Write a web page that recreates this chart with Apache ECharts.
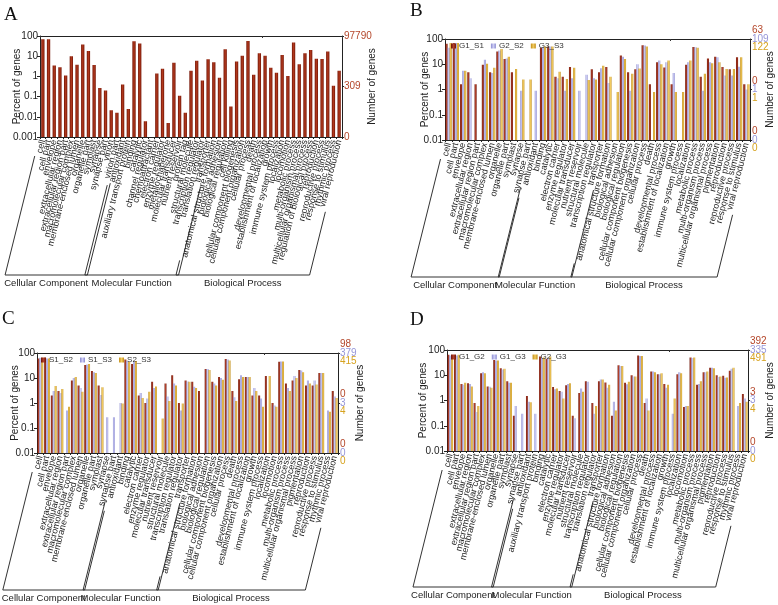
<!DOCTYPE html>
<html>
<head>
<meta charset="utf-8">
<script src="https://cdn.jsdelivr.net/npm/echarts@6/dist/echarts.min.js"></script>
<style>
  html, body { margin: 0; padding: 0; background: #fff; }
  #main { width: 778px; height: 605px; }
</style>
</head>
<body>
<div id="main"></div>
<script>
// ---- data (percent of genes) ----
var groupNames = ['Cellular Component', 'Molecular Function', 'Biological Process'];

var ccTerms = ['cell', 'cell part', 'envelope', 'extracellular region', 'extracellular region part',
  'macromolecular complex', 'membrane-enclosed lumen', 'organelle', 'organelle part', 'symplast',
  'synapse', 'synapse part'];
var bpTerms = ['anatomical structure formation', 'biological adhesion', 'biological regulation',
  'cellular component biogenesis', 'cellular component organization', 'cellular process', 'death',
  'developmental process', 'establishment of localization', 'growth', 'immune system process',
  'localization', 'locomotion', 'metabolic process', 'multi-organism process',
  'multicellular organismal process', 'pigmentation', 'reproduction', 'reproductive process',
  'response to stimulus', 'rhythmic process', 'viral reproduction'];

// panel A
var catsA = ccTerms.concat(['virion', 'virion part',
  'antioxidant', 'auxiliary transport protein', 'binding', 'catalytic', 'channel regulator',
  'chemoattractant', 'electron carrier', 'enzyme regulator', 'metallochaperone',
  'molecular transducer', 'nutrient reservoir', 'protein tag', 'structural molecule',
  'transcription regulator', 'translation regulator', 'transporter',
  'anatomical structure formation', 'biological adhesion', 'biological regulation', 'cell killing',
  'cellular component biogenesis', 'cellular component organization', 'cellular process', 'death',
  'developmental process', 'establishment of localization', 'growth', 'immune system process',
  'localization', 'locomotion', 'metabolic process', 'multi-organism process',
  'multicellular organismal process', 'regulation of biological process', 'reproduction',
  'reproductive process', 'response to stimulus', 'rhythmic process', 'viral reproduction']);
var groupSizeA = [14, 16, 23];
var valsA = [70, 70, 3.5, 2.8, 1.1, 10, 3.8, 38, 18, 3.7, 0.27, 0.2, 0.021, 0.016,
  0.4, 0.024, 55, 43, 0.006, null, 1.4, 2.4, 0.005, 4.8, 0.11, 0.016, 1.9, 6, 0.62, 7,
  5, 0.85, 22, 0.032, 5.5, 10.5, 57, 1.2, 14, 10.5, 2.7, 1.5, 11.5, 1.05, 48, 4, 14, 20, 7.5, 7.3, 17, 0.34, 1.9];
var rightPosA = [0.001, 0.316, 100];
var rightLabA = ['0', '309', '97790'];

// panel B
var catsB = ccTerms.concat(['antioxidant', 'binding', 'catalytic', 'electron carrier', 'enzyme regulator',
  'molecular transducer', 'nutrient reservoir', 'structural molecule', 'transcription regulator', 'transporter',
  'anatomical structure formation', 'biological adhesion', 'biological regulation',
  'cellular component biogenesis', 'cellular component organization', 'cellular process', 'death',
  'developmental process', 'establishment of localization', 'growth', 'immune system process',
  'localization', 'metabolic process', 'multi-organism process', 'multicellular organismal process',
  'pigmentation', 'reproduction', 'reproductive process', 'response to stimulus', 'viral reproduction']);
var groupSizeB = [12, 10, 20];
var namesB = ['G1_S1', 'G2_S2', 'G3_S3'];
var b1 = [65, 70, 1.6, 4.8, 1.6, 9.5, 4.8, 32, 16, 4.8, null, null,
  null, 45, 50, 3.2, 3.2, 7.8, null, null, 6.3, 4.8,
  7.8, null, 22, 4.8, 6.3, 57, 1.6, 12, 7.5, 1.6, null, 9.5, 48, 3.2, 17, 20, 7.8, 6.3, 19, 1.6];
var b2 = [45, 70, 5.5, 2.8, null, 15, 4.5, 35, 17, null, 0.9, null,
  0.9, 48, 50, 2.8, 0.9, 2.8, 0.9, 3.8, 2.8, 7,
  1.8, null, 20, 0.9, 10, 55, null, 14, 12, 4.5, null, 12, 47, 0.9, 12, 19, 3.6, 3.6, 8, 1];
var b3 = [70, 70, 5.5, null, null, 10.5, 7.2, 40, 20, 6.5, 2.5, 2.5,
  null, 50, 50, 5, 2.6, 7.2, null, 2.4, 2.5, 8.8,
  3.2, 0.8, 16, 4.2, 6.8, 50, 0.8, 10, 14, 0.8, 0.8, 14, 45, 4.2, 11, 12, 6.5, 6.5, 19, 1.6];
var rightPosB = [0.01, 1, 100];
var rightLabB = [['0', '0', '0'], ['0', '1', '1'], ['63', '109', '122']];

// panel C
var catsC = ccTerms.concat(['antioxidant', 'binding', 'catalytic', 'electron carrier', 'enzyme regulator',
  'molecular transducer', 'nutrient reservoir', 'structural molecule', 'transcription regulator',
  'translation regulator', 'transporter']).concat(bpTerms);
var groupSizeC = [12, 11, 22];
var namesC = ['S1_S2', 'S1_S3', 'S2_S3'];
var c1 = [60, 65, 2, 3, null, 8, 5, 33, 19, 5, null, null,
  null, 55, 36, 2, 1, 7, null, 6, 13, 1, 8,
  7, 3, 23, 7, 11, 58, 3, 9, 11, 2, 2, 12, 1, 45, 6, 8, 21, 5, 5, 16, null, 3];
var c2 = [65, 60, 3, 2.5, 0.5, 10, 4, 35, 17, 2.1, 0.27, 0.27,
  1.0, 48, 45, 2.5, 1.5, 4, null, 1.8, 6, 0.5, 7.2,
  4.5, null, 23, 6, 10, 55, 1.7, 13, 11, 4, 1.5, null, 0.8, 46, 4, 12, 20, 8, 8, 16, 0.5, 1.8];
var c3 = [65, 60, 4.8, 3.6, 0.7, 11, 2.8, 36, 16, 4.3, null, null,
  0.95, 45, 48, 1.6, 2.8, 4.6, 0.24, 1.2, 5, 0.95, 7,
  4, null, 21, 5, 8.5, 50, 1.2, 11, 11, 3, 0.7, 12, 0.7, 46, 3, 10, 17, 6, 5.5, 16, 0.45, 1.6];
var rightPosC = [0.01, 1, 100];
var rightLabC = [['0', '0', '0'], ['0', '3', '4'], ['98', '379', '415']];

// panel D
var catsD = ccTerms.concat(['antioxidant', 'auxiliary transport protein', 'binding', 'catalytic',
  'electron carrier', 'enzyme regulator', 'molecular transducer', 'nutrient reservoir',
  'structural molecule', 'transcription regulator', 'translation regulator', 'transporter']).concat(bpTerms);
var groupSizeD = [12, 12, 22];
var namesD = ['G1_G2', 'G1_G3', 'G2_G3'];
var d1 = [65, 55, 4.5, 4.8, 0.8, 12, 3.6, 40, 19, 5.8, 0.25, null,
  1.5, null, 55, 45, 3.4, 2.4, 4, 0.25, 2, 5.8, 0.8, 5.8,
  5.2, 0.25, 25, 5, 10, 60, 0.8, 14, 11, 4.5, null, 11, 0.55, 50, 4.2, 13, 20, 10, 9.5, 15, null, 1.8];
var d2 = [60, 60, 4.2, 4.5, 0.35, 13, 3.5, 38, 17, 5, 0.6, 0.3,
  0.9, 0.3, 48, 45, 2.8, 2.2, 4.5, 0.2, 3, 5.5, 0.3, 6.8,
  3.2, 0.9, 23, 4.4, 9, 58, 1.2, 14, 11, 3.2, 0.3, 13, 0.6, 48, 4.5, 13, 20, 8.5, 8, 18, 0.6, 1.2];
var d3 = [60, 65, 5, 3.6, 0.6, 12, 3.2, 38, 18, 5, null, null,
  0.85, null, 50, 55, 3, 1.2, 4.8, null, 2.2, null, 0.6, 6.8,
  4.2, 0.4, 23, 5.5, 9, 58, 0.4, 13, 12, 4.2, 1.2, 12, 0.6, 50, 5.8, 14, 19, 9, 8.2, 20, 0.8, 0.9];
var rightPosD = [0.01, 1, 100];
var rightLabD = [['0', '0', '0'], ['3', '3', '4'], ['392', '335', '491']];

// ---- styling ----
var FONT = '"Liberation Sans", Arial, Helvetica, sans-serif';
var labelColors = ['#b4462a', '#9696d8', '#d6a21e'];
var ROT = 76;          // rotation of the category labels
var LABEL_SIZE = 9;

function barGrad(dark, light) {
  return new echarts.graphic.LinearGradient(0, 0, 1, 0, [
    { offset: 0, color: dark }, { offset: 0.5, color: light }, { offset: 1, color: dark }
  ]);
}
var barColors = [barGrad('#6e1406', '#b3402a'), barGrad('#8b8bd0', '#cfcff5'), barGrad('#c18c12', '#f2cc62')];

// panel layout (pixels)
var panels = [
  { letter: 'A', lx: 4, ly: 6, grid: { left: 40, top: 36, width: 302, height: 101 }, min: 0.001,
    cats: catsA, groups: groupSizeA, series: [valsA], names: null,
    rightPos: rightPosA, rightLab: rightLabA, bracketY: 275, nameGapL: 18, nameGapR: 25 },
  { letter: 'B', lx: 410, ly: 2, grid: { left: 445, top: 39, width: 305, height: 101 }, min: 0.01,
    cats: catsB, groups: groupSizeB, series: [b1, b2, b3], names: namesB, legend: { left: 451, top: 42 },
    rightPos: rightPosB, rightLab: rightLabB, bracketY: 277, nameGapL: 15, nameGapR: 15 },
  { letter: 'C', lx: 2, ly: 310, grid: { left: 37, top: 353, width: 301, height: 100 }, min: 0.01,
    cats: catsC, groups: groupSizeC, series: [c1, c2, c3], names: namesC, legend: { left: 41, top: 356 },
    rightPos: rightPosC, rightLab: rightLabC, bracketY: 590, nameGapL: 17, nameGapR: 17 },
  { letter: 'D', lx: 410, ly: 311, grid: { left: 447, top: 350, width: 301, height: 101 }, min: 0.01,
    cats: catsD, groups: groupSizeD, series: [d1, d2, d3], names: namesD, legend: { left: 451, top: 353 },
    rightPos: rightPosD, rightLab: rightLabD, bracketY: 587, nameGapL: 19, nameGapR: 17 }
];

function logLabel(v) {
  var p = Math.round(Math.log(v) / Math.LN10);
  return p >= 0 ? String(Math.pow(10, p)) : Math.pow(10, p).toFixed(-p);
}

var option = {
  backgroundColor: '#ffffff',
  animation: false,
  textStyle: { fontFamily: FONT },
  grid: [], xAxis: [], yAxis: [], series: [], legend: [], graphic: []
};

panels.forEach(function (p, k) {
  option.grid.push(p.grid);
  // bottom category axis with the GO terms
  option.xAxis.push({
    type: 'category', gridIndex: k, data: p.cats,
    axisLine: { onZero: false, lineStyle: { color: '#222', width: 1 } },
    axisTick: { show: true, length: 2, lineStyle: { color: '#222' } },
    axisLabel: { interval: 0, rotate: ROT, fontSize: LABEL_SIZE, color: '#222', margin: 3, fontFamily: FONT }
  });
  // top border with small ticks
  option.xAxis.push({
    type: 'category', gridIndex: k, position: 'top', data: p.cats,
    axisLine: { onZero: false, lineStyle: { color: '#222', width: 1 } },
    axisTick: { show: true, inside: true, length: 2, lineStyle: { color: '#333' } },
    axisLabel: { show: false }
  });
  // left log axis
  option.yAxis.push({
    type: 'log', gridIndex: k, logBase: 10, min: p.min, max: 100, startValue: p.min,
    name: 'Percent of genes', nameLocation: 'middle', nameGap: p.nameGapL, nameRotate: 90,
    nameMoveOverlap: false,
    nameTextStyle: { fontSize: 10, color: '#222', fontFamily: FONT },
    axisLine: { show: true, onZero: false, lineStyle: { color: '#222' } },
    axisTick: { show: true, length: 3, lineStyle: { color: '#222' } },
    splitLine: { show: false }, minorTick: { show: false },
    axisLabel: { fontSize: 10, color: '#222', margin: 2, formatter: logLabel }
  });
  // right axis: number of genes (same log range, drawn in log10 units)
  var lo = Math.log(p.min) / Math.LN10;
  var rpos = p.rightPos.map(function (v) { return Math.log(v) / Math.LN10; });
  var rich = { a: { color: labelColors[0], fontSize: 10, lineHeight: 8.5 },
               b: { color: labelColors[1], fontSize: 10, lineHeight: 8.5 },
               c: { color: labelColors[2], fontSize: 10, lineHeight: 8.5 } };
  option.yAxis.push({
    type: 'value', gridIndex: k, position: 'right', min: lo, max: 2,
    name: 'Number of genes', nameLocation: 'middle', nameGap: p.nameGapR, nameRotate: 90,
    nameMoveOverlap: false,
    nameTextStyle: { fontSize: 10, color: '#222', fontFamily: FONT },
    axisLine: { show: true, onZero: false, lineStyle: { color: '#222' } },
    axisTick: { show: true, length: 2, customValues: rpos, lineStyle: { color: '#222' } },
    splitLine: { show: false },
    axisLabel: {
      customValues: rpos, margin: 2, fontSize: 10, color: labelColors[0], rich: rich,
      formatter: function (v) {
        var best = 0;
        rpos.forEach(function (r, i) { if (Math.abs(r - v) < Math.abs(rpos[best] - v)) best = i; });
        var l = p.rightLab[best];
        if (typeof l === 'string') return l;
        return '{a|' + l[0] + '}\n{b|' + l[1] + '}\n{c|' + l[2] + '}';
      }
    }
  });

  p.series.forEach(function (vals, j) {
    var s = {
      type: 'bar', xAxisIndex: 2 * k, yAxisIndex: 2 * k, data: vals,
      itemStyle: { color: barColors[j] },
      barGap: '0%', barCategoryGap: '14%'
    };
    if (p.names) s.name = p.names[j];
    if (p.series.length === 1) { s.barWidth = '58%'; s.itemStyle.color = barGrad('#741506', '#b23a1e'); }
    option.series.push(s);
  });

  if (p.names) {
    option.legend.push({
      data: p.names, left: p.legend.left, top: p.legend.top, padding: 0,
      itemWidth: 5, itemHeight: 5, itemGap: 7, icon: 'rect',
      textStyle: { fontSize: 8, color: '#333', padding: [0, 0, 0, -2] }
    });
  }

  option.graphic.push({
    type: 'text', left: p.lx, top: p.ly,
    style: { text: p.letter, font: '19px "Liberation Serif", "Times New Roman", serif', fill: '#111' }
  });
});

var chart = echarts.init(document.getElementById('main'), null, { renderer: 'canvas' });
chart.setOption(option);

// ---- group brackets under the rotated labels ----
var measure = document.createElement('canvas').getContext('2d');
measure.font = LABEL_SIZE + 'px "Liberation Sans", Arial, sans-serif';
var th = ROT * Math.PI / 180, cs = Math.cos(th), sn = Math.sin(th);

var extra = [];
panels.forEach(function (p, k) {
  var y0 = p.grid.top + p.grid.height;
  var yb = p.bracketY;
  function labelEnd(i, off) {
    var x = chart.convertToPixel({ xAxisIndex: 2 * k }, i);
    var L = measure.measureText(p.cats[i]).width + 4;
    var ax = x, ay = y0 + 3;
    var ex = ax - L * cs + off * sn, ey = ay + L * sn + off * cs;
    if (ey > yb - 6) { ex += (ey - (yb - 6)) / sn * cs; ey = yb - 6; }
    var bx = ex - (yb - ey) / sn * cs;
    return { tx: ex, ty: ey, bx: bx };
  }
  var start = 0;
  p.groups.forEach(function (n, g) {
    var a = labelEnd(start, -4);
    var b = labelEnd(start + n - 1, 4);
    extra.push({
      type: 'polyline', silent: true,
      shape: { points: [[a.tx, a.ty], [a.bx, yb], [b.bx, yb], [b.tx, b.ty]] },
      style: { stroke: '#333', lineWidth: 1, fill: null }
    });
    extra.push({
      type: 'text', silent: true,
      style: { text: groupNames[g], x: (a.bx + b.bx) / 2, y: yb + 3, textAlign: 'center', align: 'center',
               textVerticalAlign: 'top', verticalAlign: 'top',
               font: '9.5px "Liberation Sans", Arial, sans-serif', fill: '#222' }
    });
    start += n;
  });
});
chart.setOption({ graphic: option.graphic.concat(extra) });
</script>
</body>
</html>
